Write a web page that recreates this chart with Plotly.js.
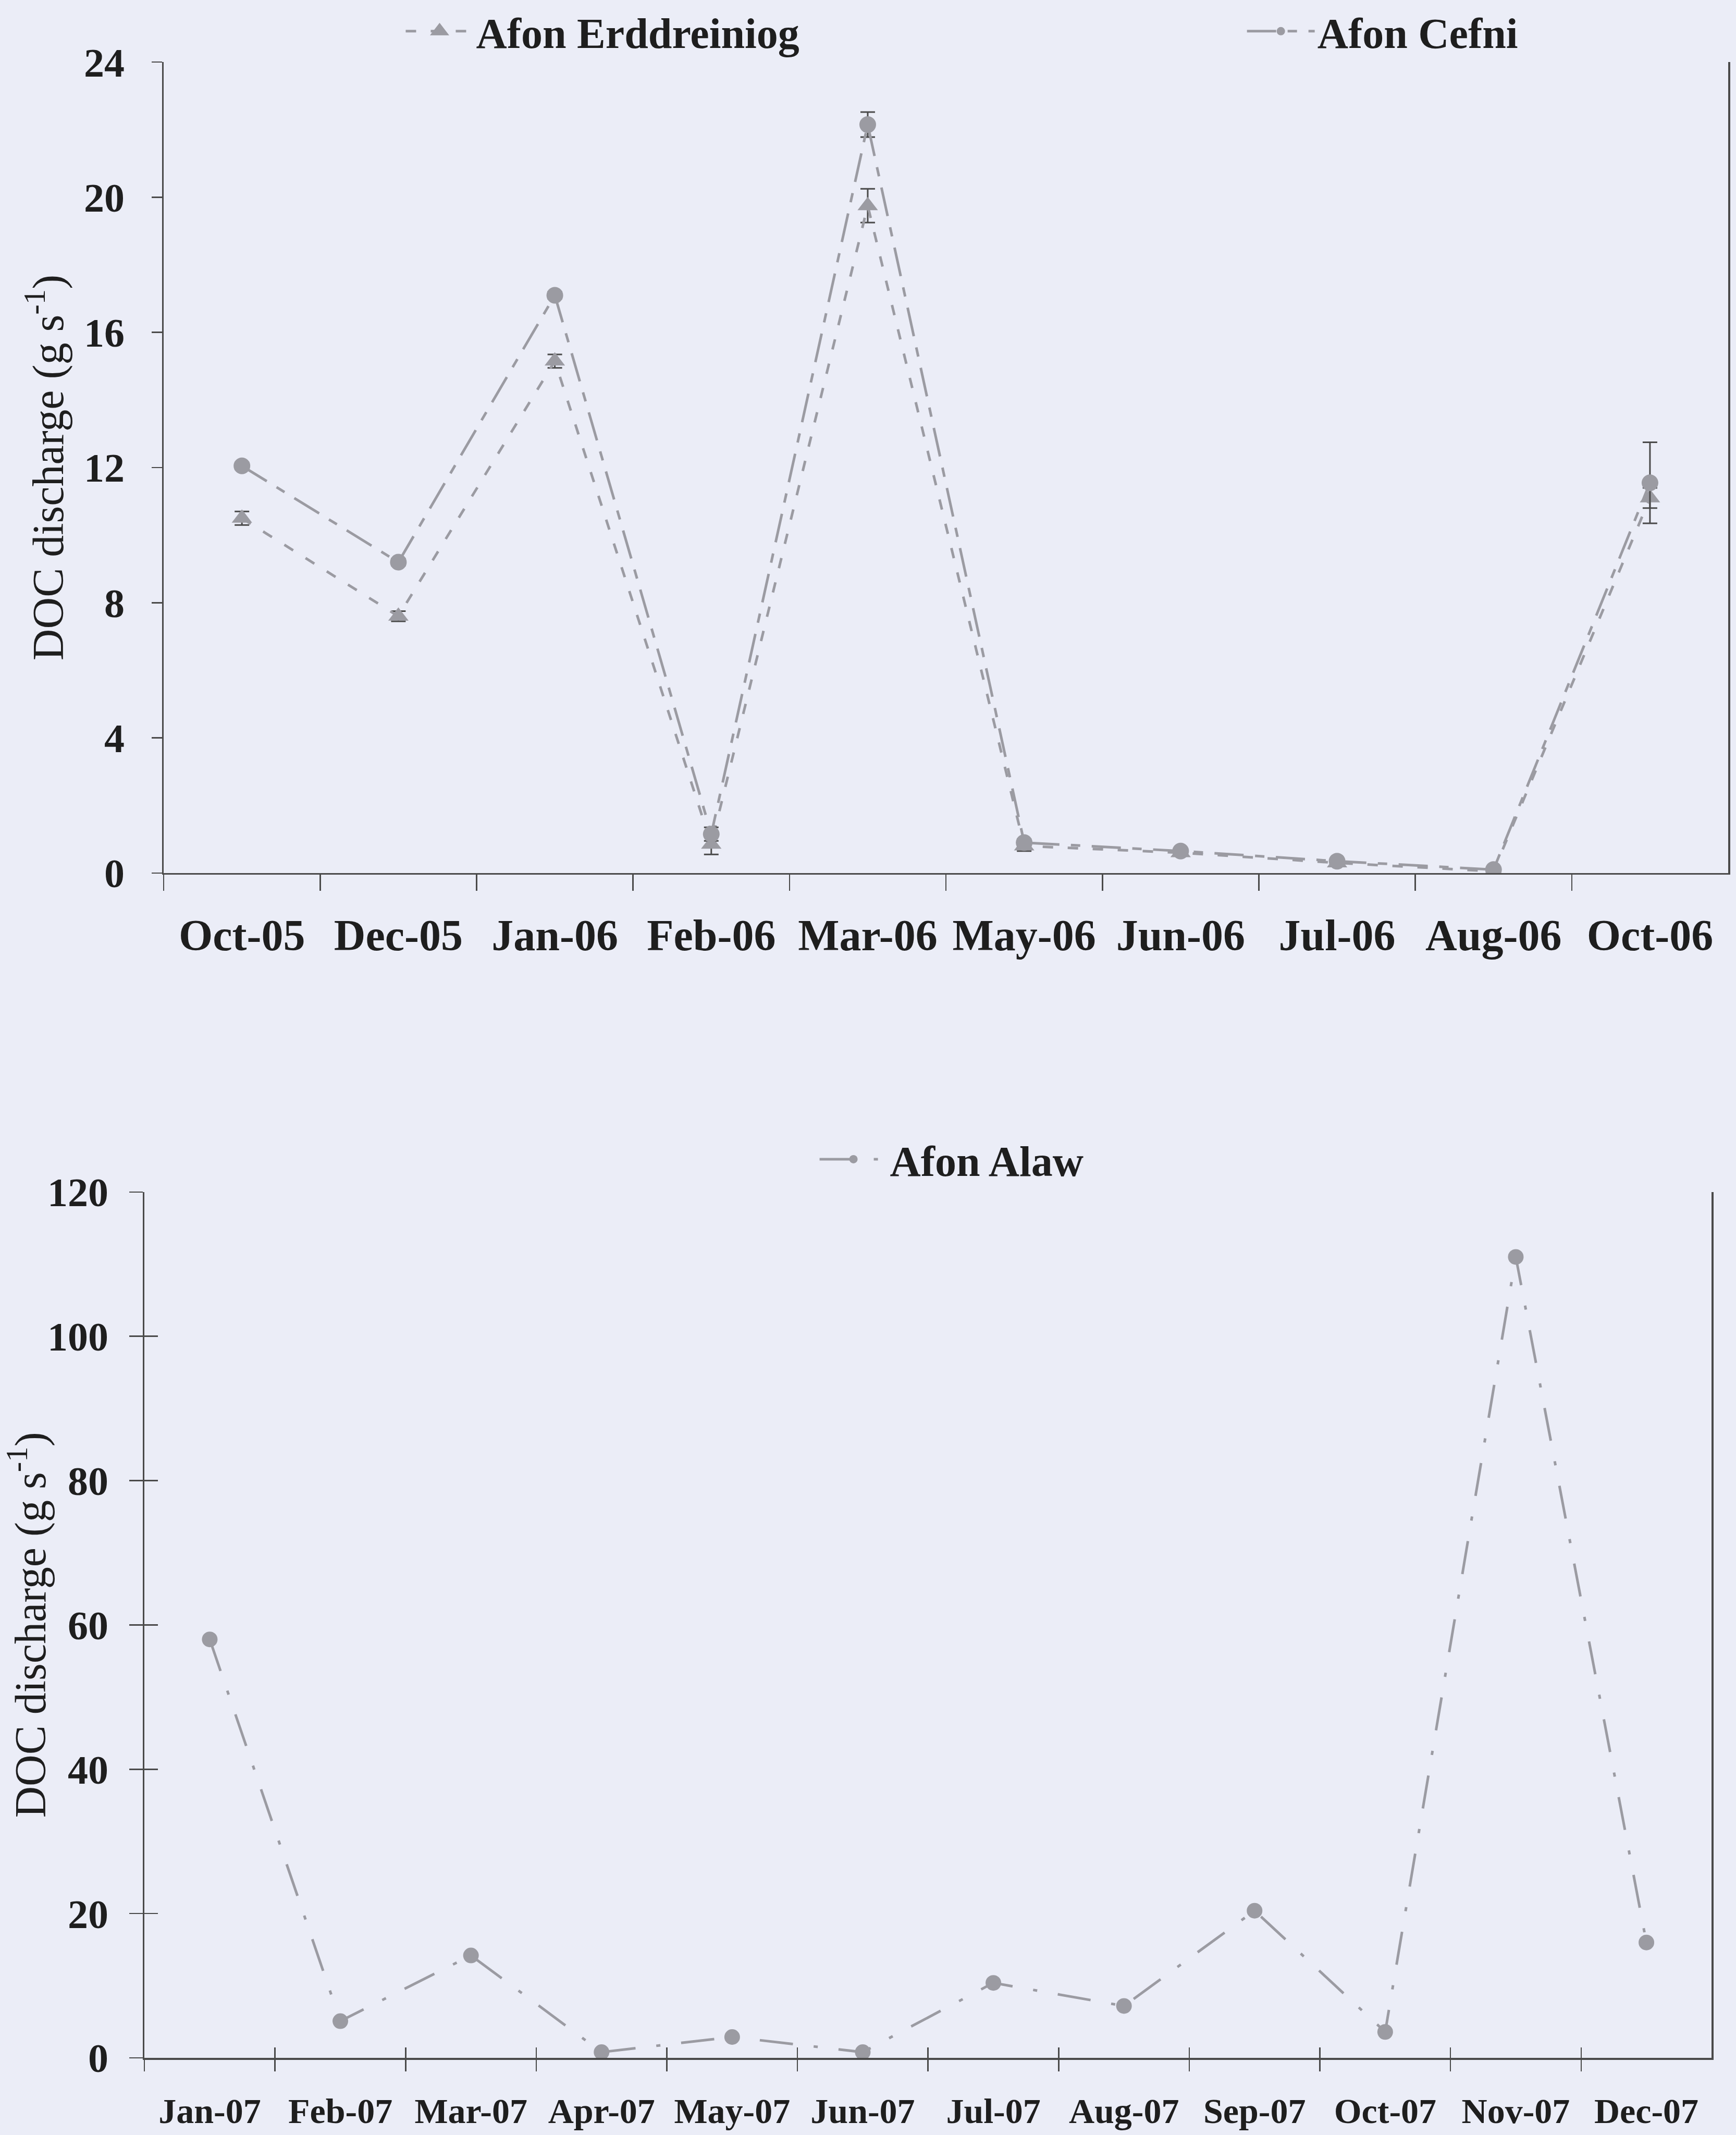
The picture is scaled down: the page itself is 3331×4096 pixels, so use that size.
<!DOCTYPE html>
<html>
<head>
<meta charset="utf-8">
<script src="https://cdn.plot.ly/plotly-3.0.1.min.js"></script>
<style>
  html, body { margin: 0; padding: 0; background: #ebedf7; }
  #chart { width: 3331px; height: 4096px; }
</style>
</head>
<body>
<div id="chart"></div>
<script>
// ---------- Data ----------
const topCats = ["Oct-05", "Dec-05", "Jan-06", "Feb-06", "Mar-06", "May-06", "Jun-06", "Jul-06", "Aug-06", "Oct-06"];
const erddreiniog = [10.5, 7.6, 15.15, 0.85, 19.75, 0.8, 0.6, 0.3, 0.05, 11.1];
const erddreiniogErr = [0.2, 0.15, 0.2, 0.3, 0.5, 0.15, 0.1, 0.05, 0.05, 0.3];
const cefni = [12.05, 9.2, 17.1, 1.15, 22.15, 0.9, 0.65, 0.35, 0.1, 11.55];
const cefniErr = [0.1, 0.1, 0.1, 0.2, 0.37, 0.1, 0.05, 0.05, 0.05, 1.2];

const bottomCats = ["Jan-07", "Feb-07", "Mar-07", "Apr-07", "May-07", "Jun-07", "Jul-07", "Aug-07", "Sep-07", "Oct-07", "Nov-07", "Dec-07"];
const alaw = [58, 5.1, 14.2, 0.8, 2.9, 0.8, 10.4, 7.2, 20.4, 3.6, 111, 16];

const topTicks = [0, 4, 8, 12, 16, 20, 24];
const bottomTicks = [0, 20, 40, 60, 80, 100, 120];

// ---------- Styles ----------
const FONT = "Liberation Serif, Times New Roman, serif";
const INK = "#1e1e1e";
const AXIS = "#4a4a4a";
const GREY = "#9b9ba2";
const ERR = "#4a4a4a";

const traces = [
  {
    name: "Afon Erddreiniog", x: topCats, y: erddreiniog,
    xaxis: "x", yaxis: "y", type: "scatter", mode: "lines+markers",
    line: { color: GREY, width: 5, dash: "20px,28px" },
    marker: { symbol: "triangle-up", size: 34, color: GREY },
    error_y: { type: "data", array: erddreiniogErr, visible: true, color: ERR, thickness: 3, width: 14 },
    legend: "legend"
  },
  {
    name: "Afon Cefni", x: topCats, y: cefni,
    xaxis: "x", yaxis: "y", type: "scatter", mode: "lines+markers",
    line: { color: GREY, width: 5, dash: "56px,22px,18px,22px" },
    marker: { symbol: "circle", size: 32, color: GREY },
    error_y: { type: "data", array: cefniErr, visible: true, color: ERR, thickness: 3, width: 14 },
    legend: "legend2"
  },
  {
    name: "Afon Alaw", x: bottomCats, y: alaw,
    xaxis: "x2", yaxis: "y2", type: "scatter", mode: "lines+markers",
    line: { color: GREY, width: 5, dash: "64px,40px,8px,40px" },
    marker: { symbol: "circle", size: 30, color: GREY },
    legend: "legend3"
  },
  // invisible helper trace so the overlay axes (crossing ticks) are drawn
  {
    x: bottomCats, y: alaw, xaxis: "x3", yaxis: "y3", type: "scatter", mode: "none",
    showlegend: false, hoverinfo: "skip"
  }
];

const tickFontTop = { family: FONT, size: 84, color: INK, weight: "bold" };
const tickFontBot = { family: FONT, size: 68, color: INK, weight: "bold" };
const yTickFont = { family: FONT, size: 78, color: INK, weight: "bold" };
const titleFont = { family: FONT, size: 84, color: INK };
const legendFont = { family: FONT, size: 82, color: INK, weight: "bold" };

const layout = {
  width: 3331, height: 4096, autosize: false,
  margin: { l: 0, r: 0, t: 0, b: 0, pad: 0 },
  paper_bgcolor: "#ebedf7", plot_bgcolor: "#ebedf7",
  showlegend: true,
  xaxis: {
    domain: [0.0943, 0.9955], anchor: "y", type: "category",
    categoryorder: "array", categoryarray: topCats, range: [-0.5, 9.5],
    showline: true, linecolor: AXIS, linewidth: 3.5, showgrid: false, zeroline: false,
    ticks: "outside", tickson: "boundaries", ticklen: 31, tickwidth: 2.5, tickcolor: AXIS,
    tickfont: tickFontTop, ticklabelstandoff: 44, fixedrange: true, automargin: false
  },
  yaxis: {
    domain: [0.5911, 0.9709], anchor: "x", range: [0, 24],
    tickmode: "array", tickvals: topTicks, ticktext: topTicks.map(String),
    showline: true, mirror: true, linecolor: AXIS, linewidth: 3.5, showgrid: false, zeroline: false,
    ticks: "outside", ticklen: 20, tickwidth: 2.5, tickcolor: AXIS,
    tickfont: yTickFont, ticklabelstandoff: 36,
    title: { text: "DOC discharge (g s<sup>-1</sup>)", font: titleFont, standoff: 12 },
    automargin: false, fixedrange: true
  },
  xaxis2: {
    domain: [0.0832, 0.9860], anchor: "y2", type: "category",
    categoryorder: "array", categoryarray: bottomCats, range: [-0.5, 11.5],
    showline: true, linecolor: AXIS, linewidth: 3.5, showgrid: false, zeroline: false,
    ticks: "outside", tickson: "boundaries", ticklen: 22, tickwidth: 2.5, tickcolor: AXIS,
    tickfont: tickFontBot, ticklabelstandoff: 40, fixedrange: true, automargin: false
  },
  yaxis2: {
    domain: [0.0361, 0.4417], anchor: "x2", range: [0, 120],
    tickmode: "array", tickvals: bottomTicks, ticktext: bottomTicks.map(String),
    showline: true, mirror: true, linecolor: AXIS, linewidth: 3.5, showgrid: false, zeroline: false,
    ticks: "outside", ticklen: 26, tickwidth: 2.5, tickcolor: AXIS,
    tickfont: yTickFont, ticklabelstandoff: 24,
    title: { text: "DOC discharge (g s<sup>-1</sup>)", font: titleFont, standoff: 0 },
    automargin: false, fixedrange: true
  },
  xaxis3: {
    overlaying: "x2", anchor: "y2", type: "category",
    categoryorder: "array", categoryarray: bottomCats, range: [-0.5, 11.5],
    showline: false, showgrid: false, zeroline: false, showticklabels: false,
    ticks: "inside", tickson: "boundaries", ticklen: 20, tickwidth: 2.5, tickcolor: AXIS,
    fixedrange: true, automargin: false
  },
  yaxis3: {
    overlaying: "y2", anchor: "x2", range: [0, 120],
    tickmode: "array", tickvals: bottomTicks,
    showline: false, showgrid: false, zeroline: false, showticklabels: false,
    ticks: "inside", ticklen: 26, tickwidth: 2.5, tickcolor: AXIS,
    fixedrange: true, automargin: false
  },
  legend: {
    x: 0.2322, y: 1, xanchor: "left", yanchor: "top",
    bgcolor: "rgba(0,0,0,0)", borderwidth: 0, font: legendFont, itemwidth: 130
  },
  legend2: {
    x: 0.7168, y: 1, xanchor: "left", yanchor: "top",
    bgcolor: "rgba(0,0,0,0)", borderwidth: 0, font: legendFont, itemwidth: 130
  },
  legend3: {
    x: 0.4706, y: 0.457, xanchor: "left", yanchor: "middle",
    bgcolor: "rgba(0,0,0,0)", borderwidth: 0, font: legendFont, itemwidth: 130
  }
};

Plotly.newPlot("chart", traces, layout, { staticPlot: true, displayModeBar: false }).then(function (gd) {
  // enlarge the legend marker glyphs to match the plotted marker size
  gd.querySelectorAll(".legend .legendpoints path.scatterpts").forEach(function (p) {
    const t = p.getAttribute("transform") || "";
    p.setAttribute("transform", t + " scale(2)");
  });
});
</script>
</body>
</html>
